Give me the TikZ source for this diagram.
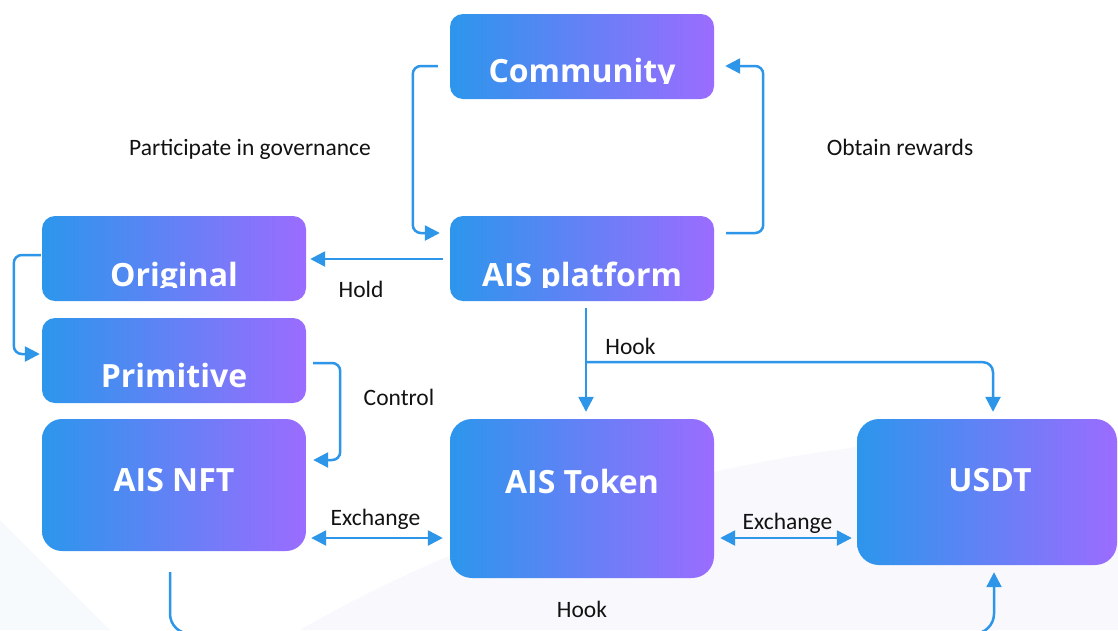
\documentclass[tikz,border=0pt]{standalone}
\usepackage{fontspec}
\setmainfont{Carlito}
\newfontfamily\boxfont{Open Sans}
\usetikzlibrary{arrows.meta,calc}
\definecolor{lnblue}{RGB}{45,150,232}
\definecolor{gleft}{RGB}{44,150,236}
\definecolor{gright}{RGB}{155,108,255}
\definecolor{bgA}{RGB}{248,248,253}
\definecolor{bgB}{RGB}{246,250,253}
\definecolor{lbltxt}{RGB}{18,18,18}
\begin{document}
\begin{tikzpicture}[x=1pt,y=-1pt,
  box/.style={rectangle, rounded corners=#1, left color=gleft, right color=gright, draw=none, inner sep=0pt},
  boxtxt/.style={anchor=base, inner sep=0pt, text=white, font=\boxfont\bfseries\fontsize{32}{32}\selectfont},
  lbl/.style={anchor=base, inner sep=0pt, text=lbltxt, font=\fontsize{23.5}{24}\selectfont},
  conn/.style={draw=lnblue, line width=2.5pt, -{Triangle[length=15pt,width=15pt]}},
  conn2/.style={draw=lnblue, line width=2.5pt, {Triangle[length=15pt,width=15pt]}-{Triangle[length=15pt,width=15pt]}}]
\useasboundingbox (0,0) rectangle (1118,630);
\fill[white] (0,0) rectangle (1118,630);
\fill[bgA] (300,630) .. controls (560,480) and (880,420) .. (1118,440) -- (1118,630) -- cycle;
\fill[bgB] (0,520) -- (110,630) -- (0,630) -- cycle;

% boxes
\node[box=13pt, minimum width=264pt, minimum height=85pt] (comm) at (582,56.5) {};
\node[box=13pt, minimum width=264pt, minimum height=85pt] (plat) at (582,258.5) {};
\node[box=13pt, minimum width=264pt, minimum height=85pt] (orig) at (174,258.5) {};
\node[box=13pt, minimum width=264pt, minimum height=85pt] (prim) at (174,360.5) {};
\node[box=20pt, minimum width=264pt, minimum height=132pt] (nft) at (174,485) {};
\node[box=22pt, minimum width=264pt, minimum height=159pt] (token) at (582,498.5) {};
\node[box=22pt, minimum width=260pt, minimum height=146pt] (usdt) at (987,492) {};

% box texts (clipped just below the baseline, as in the reference)
\begin{scope}
  \clip (0,0) rectangle (1118,83.5);
  \node[boxtxt] (tcomm) at (582,82) {Community};
\end{scope}
\begin{scope}
  \clip (0,200) rectangle (1118,287.5);
  \node[boxtxt] (tplat) at (582,286) {AIS platform};
  \node[boxtxt] (torig) at (174,286) {Original};
\end{scope}
\node[boxtxt] (tprim) at (174,387) {Primitive};
\node[boxtxt] (tnft) at (174,491) {AIS NFT};
\node[boxtxt] (ttoken) at (582,493) {AIS Token};
\node[boxtxt] (tusdt) at (990,491) {USDT};

% connectors
\draw[conn, rounded corners=8pt] ($(comm.west)+(-12,9.5)$) -- ++(-25,0) |- ($(plat.west)+(-10,-25.5)$);
\draw[conn, rounded corners=8pt] ($(plat.east)+(12,-25.5)$) -- ++(37,0) |- ($(comm.east)+(11,9.5)$);
\draw[conn] ($(plat.west)+(-7,0.5)$) -- ($(orig.east)+(4,0.5)$);
\draw[conn, rounded corners=8pt] ($(orig.west)+(-1,-3.5)$) -- ++(-27,0) |- ($(prim.west)+(-2,-6.5)$);
\draw[conn, rounded corners=8pt] ($(prim.east)+(7,2.5)$) -- ++(27,0) |- ($(nft.east)+(7,-25)$);
\draw[conn2] ($(nft.east)+(5,53)$) -- ($(token.west)+(-7,39.5)$);
\draw[conn2] ($(token.east)+(6,39.5)$) -- ($(usdt.west)+(-5,46)$);
\coordinate (hk) at ($(plat.south)+(4,61)$);
\draw[conn] ($(plat.south)+(4,7)$) -- ($(token.north)+(4,-7)$);
\draw[conn, rounded corners=10pt] (hk) -| ($(usdt.north)+(6,-7)$);
\draw[conn, rounded corners=20pt] ($(nft.south)+(-4,21)$) -- ++(0,61.5) -| ($(usdt.south)+(7,7)$);

% labels
\node[lbl] (lgov) at (250,155) {Participate in governance};
\node[lbl] (lrew) at (900,155) {Obtain rewards};
\node[lbl] (lhold) at (361,297) {Hold};
\node[lbl] (lctrl) at (399,405) {Control};
\node[lbl] (lex1) at (375.5,525) {Exchange};
\node[lbl] (lex2) at (787.5,529) {Exchange};
\node[lbl] (lhk1) at (630.5,354) {Hook};
\node[lbl] (lhk2) at (582,617) {Hook};
\end{tikzpicture}
\end{document}
